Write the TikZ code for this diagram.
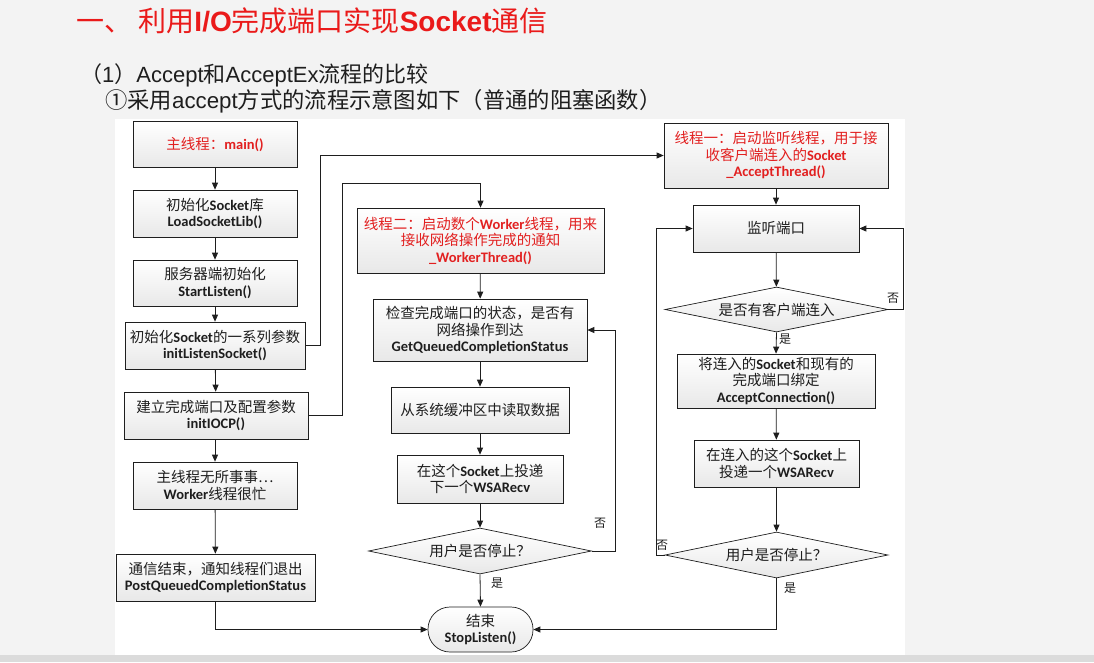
\documentclass[tikz,border=0pt]{standalone}
\usepackage{fontspec}
\usetikzlibrary{shapes.geometric,arrows.meta}
\setmainfont{Noto Sans CJK SC}
\newfontfamily\latb{Carlito}
\newfontfamily\arialf{Liberation Sans}
\newcommand\cw[1]{{\latb\bfseries #1}}
\newcommand\aw[1]{{\arialf #1}}
\newcommand\awb[1]{{\arialf\bfseries #1}}
\definecolor{hdred}{RGB}{234,26,26}
\definecolor{txtred}{RGB}{226,32,32}
\definecolor{ink}{RGB}{30,30,30}
\definecolor{slidebg}{RGB}{243,243,243}

\tikzset{
  box/.style={draw=ink, line width=0.7pt, top color=white, bottom color=black!9,
    align=center, inner sep=0pt, text=ink},
  redbox/.style={box, text=txtred},
  dia/.style={diamond, shape aspect=4.8, draw=ink, line width=0.7pt,
    top color=white, bottom color=black!9, inner sep=0pt, text=ink},
  endbox/.style={box, rounded corners=22pt},
  arr/.style={draw=ink, line width=0.8pt, -{Triangle[length=7pt,width=6pt]}},
  lnk/.style={draw=ink, line width=0.8pt},
  lbl/.style={font=\fontsize{12}{12}\selectfont, text=ink, inner sep=0pt}
}

\begin{document}
\begin{tikzpicture}[x=1pt,y=-1pt,font=\fontsize{14.5}{16.5}\selectfont]
\useasboundingbox (0,0) rectangle (1094,662);
% slide and diagram panel
\fill[slidebg] (0,0) rectangle (1094,662);
\fill[white] (115,119) rectangle (905,655);
\fill[black!14] (0,655) rectangle (1094,662);

% headings
\node[anchor=west, text=hdred, inner sep=0pt, font=\fontsize{28}{30}\selectfont]
  (title) at (76,21) {一、 利用\awb{I/O}完成端口实现\awb{Socket}通信};
\node[anchor=west, text=ink, inner sep=0pt, font=\fontsize{22}{24}\selectfont]
  (sub1) at (80,75) {（\aw{1}）\aw{Accept}和\aw{AcceptEx}流程的比较};
\node[anchor=west, text=ink, inner sep=0pt, font=\fontsize{22.3}{24}\selectfont]
  (sub2) at (105,101) {①采用\aw{accept}方式的流程示意图如下（普通的阻塞函数）};

% main thread column
\node[redbox, minimum width=164, minimum height=46] (main) at (215,144) {主线程：\cw{main()}};
\node[box, minimum width=164, minimum height=47] (lib) at (215,213.5) {初始化\cw{Socket}库\\\cw{LoadSocketLib()}};
\node[box, minimum width=164, minimum height=46] (start) at (215,283) {服务器端初始化\\\cw{StartListen()}};
\node[box, minimum width=180, minimum height=47] (ils) at (215,345.5) {初始化\cw{Socket}的一系列参数\\\cw{initListenSocket()}};
\node[box, minimum width=184, minimum height=47] (iocp) at (216,415.5) {建立完成端口及配置参数\\\cw{initIOCP()}};
\node[box, minimum width=164, minimum height=47] (idle) at (215,485.5) {主线程无所事事…\\\cw{Worker}线程很忙};
\node[box, minimum width=199, minimum height=47] (post) at (215.5,577.5) {通信结束，通知线程们退出\\\cw{PostQueuedCompletionStatus}};

% worker thread column
\node[redbox, minimum width=247, minimum height=65] (worker) at (480.5,240.5)
  {线程二：启动数个\cw{Worker}线程，用来\\接收网络操作完成的通知\\\cw{\_WorkerThread()}};
\node[box, minimum width=214, minimum height=62] (check) at (480,330)
  {检查完成端口的状态，是否有\\网络操作到达\\\cw{GetQueuedCompletionStatus}};
\node[box, minimum width=178, minimum height=46] (read) at (480,410) {从系统缓冲区中读取数据};
\node[box, minimum width=166, minimum height=48] (wsa1) at (480,479) {在这个\cw{Socket}上投递\\下一个\cw{WSARecv}};
\node[dia, minimum width=223, minimum height=46] (stop1) at (480,551) {用户是否停止？};
\node[endbox, minimum width=105, minimum height=45] (end) at (480.5,629.5) {结束\\\cw{StopListen()}};

% accept thread column
\node[redbox, minimum width=224, minimum height=65] (accept) at (776,155.5)
  {线程一：启动监听线程，用于接\\收客户端连入的\cw{Socket}\\\cw{\_AcceptThread()}};
\node[box, minimum width=166, minimum height=47] (listen) at (776,228.5) {监听端口};
\node[dia, minimum width=223, minimum height=45] (conn) at (776.5,309.5) {是否有客户端连入};
\node[box, minimum width=198, minimum height=54] (bind) at (776,381)
  {将连入的\cw{Socket}和现有的\\完成端口绑定\\\cw{AcceptConnection()}};
\node[box, minimum width=165, minimum height=47] (wsa2) at (776.5,463.5) {在连入的这个\cw{Socket}上\\投递一个\cw{WSARecv}};
\node[dia, minimum width=223, minimum height=46] (stop2) at (776.5,555) {用户是否停止？};

% main thread flow
\draw[arr] (main) -- (lib);
\draw[arr] (lib) -- (start);
\draw[arr] (start) -- (ils);
\draw[arr] (ils) -- (iocp);
\draw[arr] (iocp.south -| idle.north) -- (idle);
\draw[arr] (idle) -- (post);
\draw[arr] (post.south) |- (end.west);

% thread start-up links
\coordinate (ilsout) at (320,345.5);
\draw[arr] (ils.east) -- (ilsout) |- (accept.west);
\coordinate (iocpout) at (342,415.5);
\coordinate (wktop) at (480.5,183);
\draw[arr] (iocp.east) -- (iocpout) |- (wktop) -- (worker.north);

% worker loop
\draw[arr] (worker) -- (check);
\draw[arr] (check) -- (read);
\draw[arr] (read) -- (wsa1);
\draw[arr] (wsa1) -- (stop1);
\draw[arr] (stop1.south) -- (end.north);
\coordinate (wkloop) at (615,551);
\draw[arr] (stop1.east) -- (wkloop) |- (check.east);
\node[lbl] (no1) at (600,523) {否};
\node[lbl] (yes1) at (497,583) {是};

% accept loop
\draw[arr] (accept) -- (listen);
\draw[arr] (listen) -- (conn);
\draw[arr] (conn.south) -- (bind.north);
\draw[arr] (bind) -- (wsa2);
\draw[arr] (wsa2) -- (stop2);
\coordinate (cnloop) at (903,309.5);
\draw[arr] (conn.east) -- (cnloop) |- (listen.east);
\coordinate (acloop) at (656,555);
\draw[arr] (stop2.west) -- (acloop) |- (listen.west);
\draw[arr] (stop2.south) |- (end.east);
\node[lbl] (no2) at (893,298) {否};
\node[lbl] (yes2) at (785,339) {是};
\node[lbl] (no3) at (662,545) {否};
\node[lbl] (yes3) at (790,588) {是};
\end{tikzpicture}
\end{document}
